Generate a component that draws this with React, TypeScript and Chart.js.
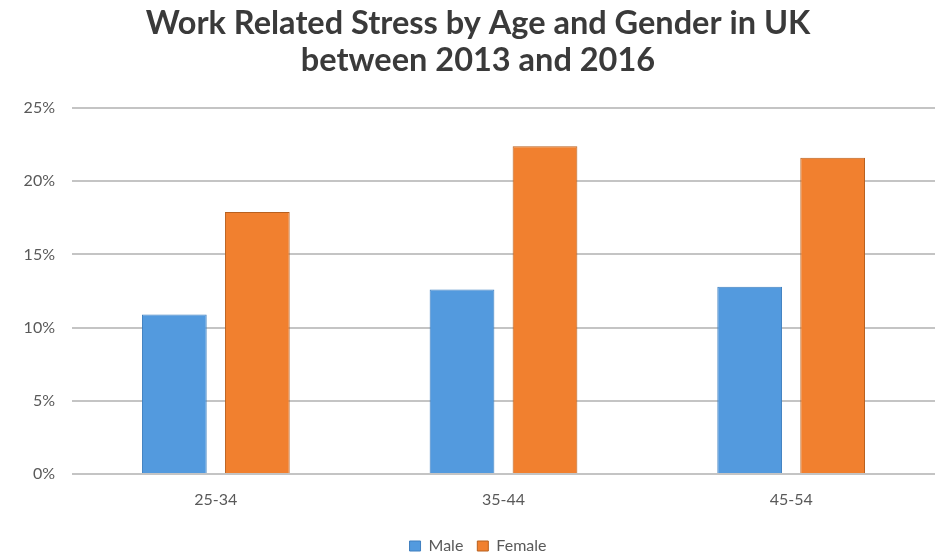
import React, { useEffect, useRef } from "react";
import { Chart, registerables } from "chart.js";

Chart.register(...registerables);

const categories = ["25-34", "35-44", "45-54"];
const maleValues = [10.9, 12.6, 12.8];
const femaleValues = [17.9, 22.4, 21.6];
const yTicks = [0, 5, 10, 15, 20, 25];
const titleLines = ["Work Related Stress by Age and Gender in UK", "between 2013 and 2016"];

export default function App() {
  const ref = useRef<HTMLCanvasElement | null>(null);
  useEffect(() => {
    document.body.style.margin = "0";
    const canvas = ref.current;
    if (!canvas) return;
    const chart = new Chart(canvas, {
      type: "bar",
      data: {
        labels: categories,
        datasets: [
          {
            label: "Male",
            data: maleValues,
            backgroundColor: "#539ade",
            borderColor: "#3f7fbf",
            borderWidth: 1,
            categoryPercentage: 0.577,
            barPercentage: 0.78,
          },
          {
            label: "Female",
            data: femaleValues,
            backgroundColor: "#f1802f",
            borderColor: "#b8601f",
            borderWidth: 1,
            categoryPercentage: 0.577,
            barPercentage: 0.78,
          },
        ],
      },
      options: {
        responsive: false,
        animation: false,
        layout: { padding: { left: 21, right: 10, top: 5, bottom: -7 } },
        plugins: {
          title: {
            display: true,
            text: titleLines,
            color: "#3a3a3a",
            font: { family: "Lato", size: 32.5, weight: "bold", lineHeight: 1.14 },
            padding: { top: 0, bottom: 29 },
          },
          legend: {
            position: "bottom",
            labels: {
              boxWidth: 11,
              boxHeight: 10,
              color: "#595959",
              font: { family: "Lato", size: 16 },
              padding: 14,
            },
          },
          tooltip: { enabled: false },
        },
        scales: {
          x: {
            grid: { display: false, drawTicks: false },
            border: { display: false },
            ticks: { color: "#595959", font: { family: "Lato", size: 16 }, padding: 16 },
            afterFit: (s: any) => {
              s.height = 50;
            },
          },
          y: {
            min: 0,
            max: 25,
            afterBuildTicks: (s: any) => {
              s.ticks = yTicks.map((v) => ({ value: v }));
            },
            grid: { color: "#c4c4c4", lineWidth: 2, drawTicks: false },
            border: { display: false },
            ticks: {
              color: "#595959",
              font: { family: "Lato", size: 16 },
              padding: 17,
              callback: (v: any) => v + "%",
            },
            afterFit: (s: any) => {
              s.width = 51;
            },
          },
        },
      },
    });
    return () => chart.destroy();
  }, []);
  return <canvas ref={ref} width={945} height={557} style={{ display: "block" }} />;
}
